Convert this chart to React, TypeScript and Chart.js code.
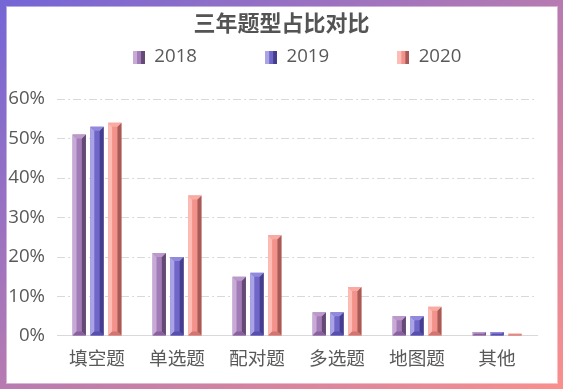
import React, { useEffect, useRef } from 'react';
import { Chart, registerables } from 'chart.js';

Chart.register(...registerables);

const categories = ['填空题', '单选题', '配对题', '多选题', '地图题', '其他'];
const years = ['2018', '2019', '2020'];
const values2018 = [51, 21, 15, 6, 5, 1];
const values2019 = [53, 20, 16, 6, 5, 1];
const values2020 = [54, 35.6, 25.5, 12.4, 7.4, 0.6];
const yTicks = [0, 10, 20, 30, 40, 50, 60];
const chartTitle = '三年题型占比对比';

const palette = [
  { light: '#c9aad6', mid: '#a27cb6', dark: '#674977', top: '#bb9acb', bottom: '#87609d' },
  { light: '#aaa4e6', mid: '#6f66c8', dark: '#453e8c', top: '#9089dc', bottom: '#574eae' },
  { light: '#fdbcb5', mid: '#f3928b', dark: '#a65b59', top: '#f9aaa2', bottom: '#d27470' },
];

const TEXT = '#595959';
const FONT = '"Open Sans", "Noto Sans CJK SC", sans-serif';

function makeIcon(c: { light: string; mid: string; dark: string }) {
  const cv = document.createElement('canvas');
  cv.width = 12;
  cv.height = 13;
  const g = cv.getContext('2d')!;
  g.fillStyle = c.light;
  g.fillRect(0, 0, 4, 13);
  g.fillStyle = c.mid;
  g.fillRect(4, 0, 4, 13);
  g.fillStyle = c.dark;
  g.fillRect(8, 0, 4, 13);
  return cv;
}

const bevelPlugin = {
  id: 'bevel3d',
  afterDatasetsDraw(chart: any) {
    const ctx = chart.ctx;
    chart.data.datasets.forEach((_ds: any, i: number) => {
      const meta = chart.getDatasetMeta(i);
      if (meta.hidden) return;
      const c = palette[i];
      meta.data.forEach((el: any) => {
        const { x, y, base, width } = el.getProps(['x', 'y', 'base', 'width'], true);
        const l = x - width / 2;
        const r = x + width / 2;
        const t = Math.min(y, base);
        const b = Math.max(y, base);
        const h = b - t;
        if (h <= 0) return;
        const d = Math.min(width * 0.3, h / 2);
        const poly = (pts: number[][], color: string) => {
          ctx.beginPath();
          ctx.moveTo(pts[0][0], pts[0][1]);
          for (let k = 1; k < pts.length; k++) ctx.lineTo(pts[k][0], pts[k][1]);
          ctx.closePath();
          ctx.fillStyle = color;
          ctx.fill();
        };
        ctx.save();
        poly([[l, t], [l + d, t + d], [l + d, b - d], [l, b]], c.light);
        poly([[r, t], [r - d, t + d], [r - d, b - d], [r, b]], c.dark);
        poly([[l, t], [r, t], [r - d, t + d], [l + d, t + d]], c.top);
        poly([[l, b], [r, b], [r - d, b - d], [l + d, b - d]], c.bottom);
        ctx.restore();
      });
    });
  },
};

export default function App() {
  const ref = useRef<HTMLCanvasElement>(null);

  useEffect(() => {
    const icons = palette.map(makeIcon);
    const blank = document.createElement('canvas');
    blank.width = 1;
    blank.height = 1;
    const pad = '            ';
    const series = [values2018, values2019, values2020];

    const chart = new Chart(ref.current!, {
      type: 'bar',
      data: {
        labels: categories,
        datasets: years.map((yr, i) => ({
          label: yr,
          data: series[i],
          backgroundColor: palette[i].mid,
          borderWidth: 0,
          categoryPercentage: 0.667,
          barPercentage: 0.75,
        })),
      },
      options: {
        responsive: false,
        animation: false,
        devicePixelRatio: 1,
        layout: { padding: { left: 26, right: 26, top: 7, bottom: 6.6 } },
        plugins: {
          tooltip: { enabled: false },
          title: {
            display: true,
            text: chartTitle,
            color: '#545454',
            font: { family: '"Noto Sans CJK SC", sans-serif', size: 22, weight: 'bold' },
            padding: { top: 2, bottom: 2.3 },
          },
          subtitle: {
            display: true,
            text: '',
            weight: 500,
            font: { size: 1 },
            padding: { top: 0, bottom: 21.5 },
          },
          legend: {
            display: true,
            position: 'top',
            labels: {
              usePointStyle: true,
              boxWidth: 12,
              boxHeight: 13,
              padding: 10,
              color: TEXT,
              font: { family: FONT, size: 18.67 },
              generateLabels: (ch: any) => {
                const base = (Chart.defaults.plugins.legend.labels as any).generateLabels(ch);
                const items = base.map((it: any, i: number) => ({
                  ...it,
                  text: i < base.length - 1 ? it.text + pad : it.text,
                  pointStyle: icons[i],
                  lineWidth: 0,
                  strokeStyle: 'transparent',
                }));
                return [
                  {
                    text: '',
                    pointStyle: blank,
                    fillStyle: 'transparent',
                    strokeStyle: 'transparent',
                    lineWidth: 0,
                    hidden: false,
                    datasetIndex: -1,
                    fontColor: TEXT,
                  },
                  ...items,
                ];
              },
            },
          },
        },
        scales: {
          x: {
            grid: { display: false, drawTicks: false },
            border: { display: true, color: '#d9d9d9', width: 1 },
            ticks: { color: TEXT, font: { family: FONT, size: 18.67 }, padding: 12 },
          },
          y: {
            min: yTicks[0],
            max: yTicks[yTicks.length - 1],
            afterFit: (scale: any) => {
              scale.width = 31;
              scale._computeLabelArea = () => undefined;
            },
            afterBuildTicks: (scale: any) => {
              scale.ticks = yTicks.map((v) => ({ value: v }));
            },
            grid: { color: '#d9d9d9', lineWidth: 1, drawTicks: false },
            border: { display: false, dash: [8, 3, 2, 3] },
            ticks: {
              color: TEXT,
              font: { family: FONT, size: 18.67 },
              padding: 12,
              callback: (v: any) => v + '%',
            },
          },
        },
      } as any,
      plugins: [bevelPlugin],
    });
    return () => chart.destroy();
  }, []);

  return (
    <div
      style={{
        position: 'fixed',
        left: 0,
        top: 0,
        width: 563,
        height: 389,
        background: 'linear-gradient(to bottom right, #7466d6, #fa8f8c)',
      }}
    >
      <div
        style={{
          position: 'absolute',
          left: 7,
          top: 7,
          right: 6,
          bottom: 6,
          background: '#ffffff',
          boxShadow: '0 0 0 1px rgba(255,255,255,0.45)',
        }}
      />
      <canvas
        ref={ref}
        width={563}
        height={389}
        style={{ position: 'absolute', left: 0, top: 0, width: 563, height: 389 }}
      />
    </div>
  );
}
